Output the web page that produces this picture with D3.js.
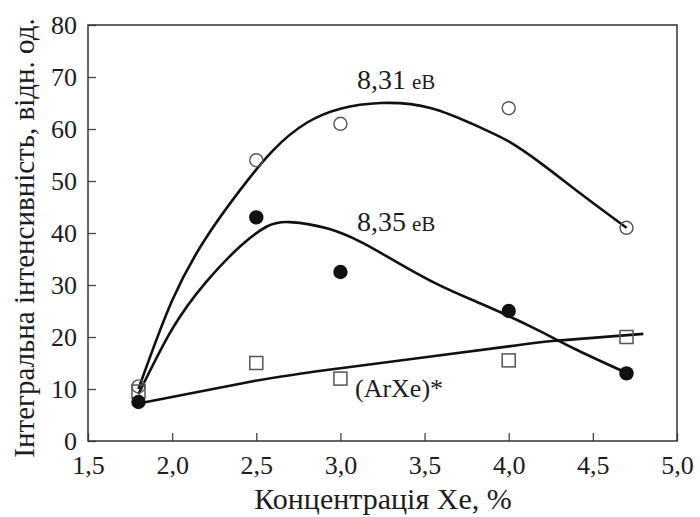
<!DOCTYPE html>
<html>
<head>
<meta charset="utf-8">
<script src="https://cdn.jsdelivr.net/npm/d3@7"></script>
<style>
  body { margin: 0; background: #fff; }
</style>
</head>
<body>
<div id="chart"></div>
<script>
// measured points
var conc = [1.8, 2.5, 3.0, 4.0, 4.7];
var open831 = [10.5, 54, 61, 64, 41];
var filled835 = [7.5, 43, 32.5, 25, 13];
var arxe = [9.5, 15, 12, 15.5, 20];

// fitted curves
var fit831X = [1.8, 2.0, 2.2, 2.4, 2.6, 2.8, 3.0, 3.24, 3.54, 3.83, 4.0, 4.2, 4.43, 4.7];
var fit831Y = [10, 27, 39, 48.1, 55.9, 61.2, 63.9, 65.0, 64.0, 60.3, 57.6, 53.2, 47.5, 41.0];
var fit835X = [1.8, 2.0, 2.2, 2.4, 2.56, 2.7, 2.93, 3.12, 3.26, 3.56, 3.85, 4.15, 4.4, 4.7];
var fit835Y = [9, 21.5, 30.5, 37.3, 41.2, 42.1, 40.8, 38.3, 35.8, 30.4, 26.2, 21.7, 17.6, 13.1];
var fitArXeX = [1.8, 2.48, 3.0, 4.0, 4.29, 4.8];
var fitArXeY = [7.2, 11.5, 14.0, 18.2, 19.3, 20.6];

var xTicks = [1.5, 2.0, 2.5, 3.0, 3.5, 4.0, 4.5, 5.0];
var yTicks = [0, 10, 20, 30, 40, 50, 60, 70, 80];

var W = 700, H = 517;
var margin = {left: 88, top: 25, right: 23, bottom: 76};
var serif = '"Liberation Serif", "Times New Roman", Tinos, "DejaVu Serif", "Noto Serif", serif';
var ink = '#1c1c22';

var svg = d3.select('#chart').append('svg')
  .attr('width', W)
  .attr('height', H);

var x = d3.scaleLinear().domain([1.5, 5.0]).range([margin.left, W - margin.right]);
var y = d3.scaleLinear().domain([0, 80]).range([H - margin.bottom, margin.top]);

var comma = function(d){ return d3.format('.1f')(d).replace('.', ','); };

// axes, ticks pointing inward
var xAxis = svg.append('g')
  .attr('transform', 'translate(0,' + y(0) + ')')
  .call(d3.axisBottom(x).tickValues(xTicks).tickSize(-8).tickPadding(15).tickFormat(comma));
var yAxis = svg.append('g')
  .attr('transform', 'translate(' + x(1.5) + ',0)')
  .call(d3.axisLeft(y).tickValues(yTicks).tickSize(-8).tickPadding(11).tickFormat(d3.format('d')));

[xAxis, yAxis].forEach(function(g){
  g.attr('font-family', null).attr('font-size', null);
  g.select('.domain').remove();
  g.selectAll('.tick line').attr('stroke', '#444').attr('stroke-width', 1.3);
  g.selectAll('.tick text')
    .style('font-family', serif)
    .style('font-size', '26px')
    .attr('fill', ink);
});

// frame
svg.append('rect')
  .attr('x', x(1.5)).attr('y', y(80))
  .attr('width', x(5.0) - x(1.5)).attr('height', y(0) - y(80))
  .attr('fill', 'none').attr('stroke', '#333').attr('stroke-width', 1.5);

// fitted curves
var line = d3.line()
  .curve(d3.curveNatural)
  .x(function(d){ return x(d[0]); })
  .y(function(d){ return y(d[1]); });

[[fit831X, fit831Y], [fit835X, fit835Y], [fitArXeX, fitArXeY]].forEach(function(c){
  svg.append('path')
    .attr('d', line(d3.zip(c[0], c[1])))
    .attr('fill', 'none')
    .attr('stroke', '#111')
    .attr('stroke-width', 2.6);
});

// markers
svg.selectAll('.sq').data(d3.zip(conc, arxe)).enter().append('rect')
  .attr('class', 'sq')
  .attr('x', function(d){ return x(d[0]) - 6.5; })
  .attr('y', function(d){ return y(d[1]) - 6.5; })
  .attr('width', 13).attr('height', 13)
  .attr('fill', 'none').attr('stroke', '#555').attr('stroke-width', 1.5);

svg.selectAll('.oc').data(d3.zip(conc, open831)).enter().append('circle')
  .attr('class', 'oc')
  .attr('cx', function(d){ return x(d[0]); })
  .attr('cy', function(d){ return y(d[1]); })
  .attr('r', 6.5)
  .attr('fill', 'none').attr('stroke', '#555').attr('stroke-width', 1.4);

svg.selectAll('.fc').data(d3.zip(conc, filled835)).enter().append('circle')
  .attr('class', 'fc')
  .attr('cx', function(d){ return x(d[0]); })
  .attr('cy', function(d){ return y(d[1]); })
  .attr('r', 7.2)
  .attr('fill', '#111');

function txt(){
  return svg.append('text').style('font-family', serif).attr('fill', ink);
}

// curve labels
function label(px, py, num, unit){
  var t = txt().attr('x', px).attr('y', py);
  t.append('tspan').text(num).style('font-size', '28px');
  t.append('tspan').text(unit).attr('dx', 6).style('font-size', '21px');
}
label(357, 89, '8,31', 'еВ');
label(357, 231, '8,35', 'еВ');

txt().attr('x', 355).attr('y', 397)
  .style('font-size', '26px')
  .text('(ArXe)*');

// axis titles
txt().attr('x', 383)
  .attr('y', 509)
  .attr('text-anchor', 'middle')
  .style('font-size', '30px')
  .text('Концентрація Xe, %');

txt().attr('transform', 'translate(34,' + 238 + ') rotate(-90)')
  .attr('text-anchor', 'middle')
  .style('font-size', '29px')
  .text('Інтегральна інтенсивність, відн. од.');
</script>
</body>
</html>
